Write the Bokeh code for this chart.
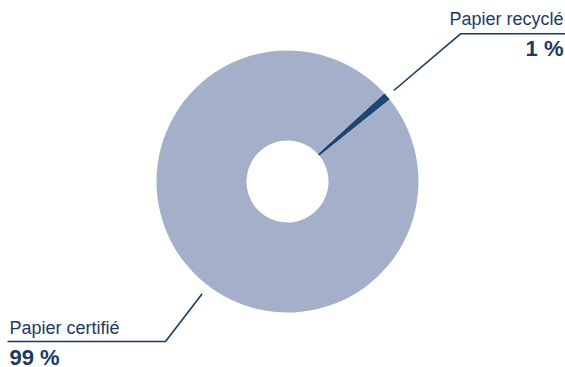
import math
from bokeh.plotting import figure
from bokeh.models import Range1d, ColumnDataSource
from bokeh.core.properties import value
from bokeh.embed import file_html
from bokeh.resources import INLINE

# Data
categories = ["Papier recyclé", "Papier certifié"]
shares = [1, 99]
labels = ["1 %", "99 %"]
colors = ["#1e4673", "#a4afc9"]

W, H = 565, 367
CX, CY = 287, H - 181
R_OUT, R_IN = 131, 41
START_DEG = 38.7

total = sum(shares)
starts, ends = [], []
a = math.radians(START_DEG)
for s in shares:
    starts.append(a)
    a += 2 * math.pi * s / total
    ends.append(a)

src = ColumnDataSource(dict(cat=categories, val=shares, start=starts, end=ends, color=colors))

p = figure(width=W, height=H, output_backend="svg", toolbar_location=None,
           x_range=Range1d(0, W), y_range=Range1d(0, H), min_border=0)
p.axis.visible = False
p.grid.visible = False
p.outline_line_color = None
p.background_fill_color = "white"
p.border_fill_color = "white"

p.annular_wedge(x=CX, y=CY, inner_radius=R_IN, outer_radius=R_OUT,
                start_angle="start", end_angle="end", color="color",
                line_color=None, source=src)

line_col = "#163a64"
txt_col = "#1d3a63"

def py(y):
    return H - y

# leader for recycled
p.line([393.3, 460, 565], [py(90), py(33.3), py(33.3)], line_color=line_col, line_width=1.6)
# leader for certified
p.line([201.7, 165, 7], [py(293.3), py(341), py(341)], line_color=line_col, line_width=1.6)

REG, BOLD = 18, 22
reg_off, bold_off = 0.42 * 16.5 * REG / 16.5, 0.42 * 21 * BOLD / 21

p.text(x=[563], y=[py(26 - reg_off)], text=[categories[0]], text_font=value("Liberation Sans"),
       text_font_size=f"{REG}px", text_color=txt_col, text_align="right", text_baseline="alphabetic")
p.text(x=[563], y=[py(57.5 - bold_off)], text=[labels[0]], text_font=value("Liberation Sans"),
       text_font_size=f"{BOLD}px", text_font_style="bold", text_color=txt_col,
       text_align="right", text_baseline="alphabetic")
p.text(x=[9], y=[py(335 - reg_off)], text=[categories[1]], text_font=value("Liberation Sans"),
       text_font_size=f"{REG}px", text_color=txt_col, text_align="left", text_baseline="alphabetic")
p.text(x=[9], y=[py(366 - bold_off)], text=[labels[1]], text_font=value("Liberation Sans"),
       text_font_size=f"{BOLD}px", text_font_style="bold", text_color=txt_col,
       text_align="left", text_baseline="alphabetic")

open("out.html", "w").write(file_html(p, INLINE))
